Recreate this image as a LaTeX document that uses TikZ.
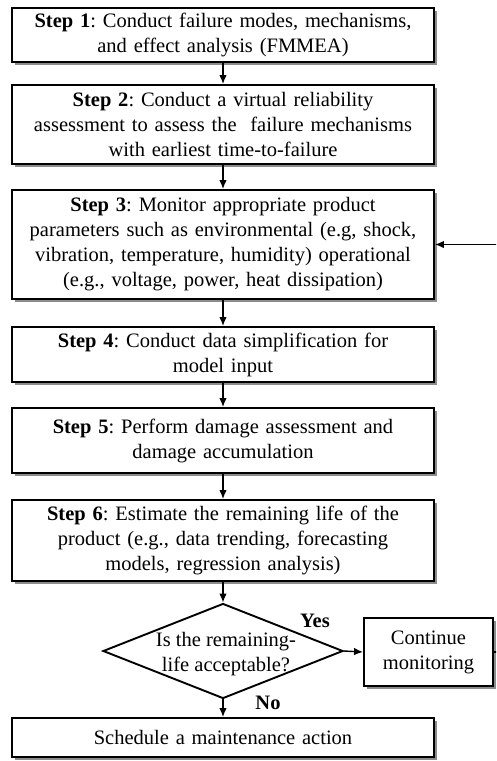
\documentclass[tikz,border=0pt]{standalone}
\usepackage{fontspec}
\setmainfont{Liberation Serif}
\usetikzlibrary{arrows.meta,shapes.geometric,shadows}

\begin{document}
\frenchspacing
\begin{tikzpicture}[x=1pt, y=1pt, font=\fontsize{20.5}{25}\selectfont,
  stepbox/.style = {draw, line width=1.9pt, fill=white, align=center,
    text width=422pt, inner sep=0pt,
    drop shadow={shadow xshift=2.5pt, shadow yshift=-2.5pt, fill=black!45, opacity=1}},
  arr/.style = {line width=1.4pt, -{Latex[length=9pt, width=7.5pt]}}]
  \useasboundingbox (0,0) rectangle (496,-761);
  \clip (0,0) rectangle (496,-761);

  \node[stepbox, minimum height=54pt] (s1) at (223,-35) {\textbf{Step 1}: Conduct failure modes, mechanisms,\\ and effect analysis (FMMEA)};
  \node[stepbox, minimum height=79pt] (s2) at (223,-124.5) {\textbf{Step 2}: Conduct a virtual reliability\\ assessment to assess the\ \ failure mechanisms\\ with earliest time-to-failure};
  \node[stepbox, minimum height=109pt] (s3) at (223,-244.5) {\textbf{Step 3}: Monitor appropriate product\\ parameters such as environmental (e.g, shock,\\ vibration, temperature, humidity) operational\\ (e.g., voltage, power, heat dissipation)};
  \node[stepbox, minimum height=55pt] (s4) at (223,-354.5) {\textbf{Step 4}: Conduct data simplification for\\ model input};
  \node[stepbox, minimum height=65pt] (s5) at (223,-440.5) {\textbf{Step 5}: Perform damage assessment and\\ damage accumulation};
  \node[stepbox, minimum height=81pt] (s6) at (223,-540.5) {\textbf{Step 6}: Estimate the remaining life of the\\ product (e.g., data trending, forecasting\\ models, regression analysis)};

  \node[diamond, draw, line width=1.9pt, fill=white, minimum width=240pt, minimum height=95pt, inner sep=0pt] (dec) at (223,-651) {};
  \node[align=center] (dectxt) at (226,-654) {Is the remaining-\\ life acceptable?};
  \node[stepbox, text width=129pt, minimum height=68pt] (cont) at (428.5,-652) {Continue\\ monitoring};
  \node[stepbox, minimum height=39pt] (act) at (223,-737.5) {Schedule a maintenance action};

  \node (yes) at (315,-621) {\textbf{Yes}};
  \node (no) at (268,-703) {\textbf{No}};

  \draw[arr] (s1) -- (s2);
  \draw[arr] (s2) -- (s3);
  \draw[arr] (s3) -- (s4);
  \draw[arr] (s4) -- (s5);
  \draw[arr] (s5) -- (s6);
  \draw[arr] (s6) -- (dec);
  \draw[arr] (dec.east) -- (cont.west);
  \draw[arr] (dec) -- (act);
  \coordinate (fb) at (500,-652);
  \draw[arr] (cont.east) -- (fb) |- (s3.east);
\end{tikzpicture}
\end{document}
